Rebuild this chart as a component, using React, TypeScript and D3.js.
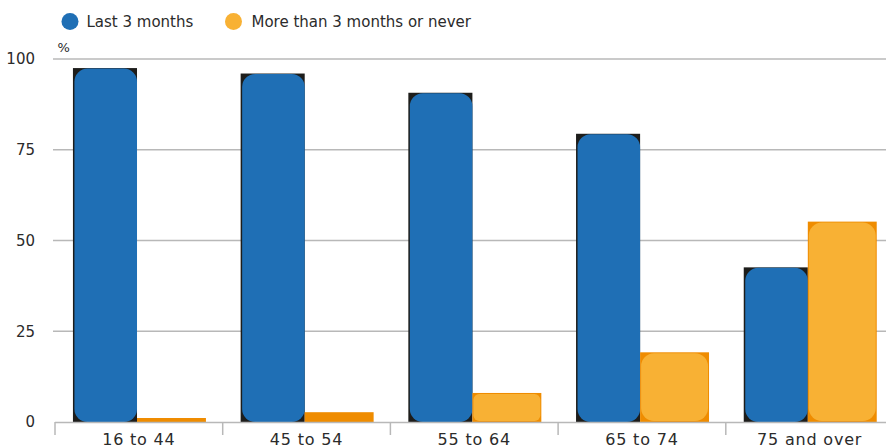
import React from "react";
import * as d3 from "d3";

const categories = ["16 to 44", "45 to 54", "55 to 64", "65 to 74", "75 and over"];
const seriesNames = ["Last 3 months", "More than 3 months or never"];
const last3Months = [97.5, 96, 90.7, 79.4, 42.6];
const moreThan3Months = [1.1, 2.7, 8, 19.2, 55.2];
const yTicks = [0, 25, 50, 75, 100];

const W = 886;
const H = 447;
const left = 55;
const bandW = 167.7;
const y0 = 422;
const y100 = 59;

const BLUE = "#1f6fb5";
const BLUE_EDGE = "#1d1d1b";
const ORANGE = "#f8b134";
const ORANGE_EDGE = "#ef8c00";
const GRID = "#b8b8b8";
const TEXT = "#2b2b2b";
const FONT = "'DejaVu Sans', sans-serif";

export default function App() {
  const x = d3
    .scaleBand<string>()
    .domain(categories)
    .range([left, left + bandW * categories.length])
    .paddingInner(0)
    .paddingOuter(0);
  const y = d3.scaleLinear().domain([0, 100]).range([y0, y100]);
  // within-group positions (fractions of the band)
  const inner = d3.scaleOrdinal<string, [number, number]>()
    .domain(seriesNames)
    .range([
      [0.107, 0.489],
      [0.489, 0.9],
    ]);

  const series = [
    { name: seriesNames[0], values: last3Months, fill: BLUE, edge: BLUE_EDGE },
    { name: seriesNames[1], values: moreThan3Months, fill: ORANGE, edge: ORANGE_EDGE },
  ];

  const bw = x.bandwidth();

  return (
    <svg
      width={W}
      height={H}
      style={{ position: "absolute", left: 0, top: 0, background: "#fff" }}
      fontFamily={FONT}
    >
      {/* legend */}
      <circle cx={70} cy={21.5} r={8.5} fill={BLUE} />
      <text x={86.5} y={27} fontSize={15} fill={TEXT}>{seriesNames[0]}</text>
      <circle cx={233.5} cy={21.5} r={8.5} fill={ORANGE} />
      <text x={251.5} y={27} fontSize={15} fill={TEXT}>{seriesNames[1]}</text>

      <text x={57.5} y={52} fontSize={13} fill={TEXT}>%</text>

      {/* gridlines */}
      {yTicks.map((t) => (
        <g key={t}>
          {t > 0 && (
            <line x1={left - 2} x2={W} y1={y(t)} y2={y(t)} stroke={GRID} strokeWidth={1.5} />
          )}
          <text
            x={35}
            y={y(t)}
            dy="0.36em"
            textAnchor="end"
            fontSize={15}
            fill={TEXT}
          >
            {t}
          </text>
        </g>
      ))}

      {/* bars */}
      {categories.map((c, i) => (
        <g key={c}>
          {series.map((s) => {
            const [f0, f1] = inner(s.name);
            const bx = (x(c) as number) + f0 * bw;
            const w = (f1 - f0) * bw;
            const v = s.values[i];
            const top = y(v);
            const h = y(0) - top;
            const showInner = h > 20;
            const rx = Math.min(13, h / 5);
            const inset = s.fill === BLUE ? 1.5 : 1;
            return (
              <g key={s.name}>
                <rect x={bx} y={top} width={w} height={h} fill={s.edge} />
                {showInner && (
                  <rect
                    x={bx + inset}
                    y={top + (s.fill === BLUE ? 0.5 : 1)}
                    width={w - inset - (s.fill === BLUE ? 0 : 1)}
                    height={h - (s.fill === BLUE ? 0.5 : 2)}
                    rx={rx}
                    ry={rx}
                    fill={s.fill}
                  />
                )}
              </g>
            );
          })}
        </g>
      ))}

      {/* x axis */}
      <line x1={left} x2={W} y1={y(0) + 0.5} y2={y(0) + 0.5} stroke={GRID} strokeWidth={1.5} />
      {d3.range(categories.length + 1).map((i) => {
        const tx = left + i * bandW;
        return (
          <line key={i} x1={tx} x2={tx} y1={y(0)} y2={y(0) + 13} stroke={GRID} strokeWidth={1.5} />
        );
      })}
      {categories.map((c) => (
        <text
          key={c}
          x={(x(c) as number) + bw / 2}
          y={445}
          textAnchor="middle"
          fontSize={16}
          letterSpacing={0.8}
          fill={TEXT}
        >
          {c}
        </text>
      ))}
    </svg>
  );
}
